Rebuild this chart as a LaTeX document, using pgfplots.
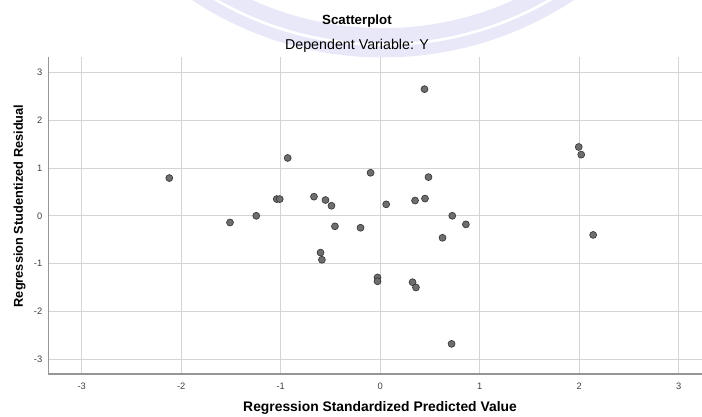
\documentclass[border=0pt]{standalone}
\usepackage{fontspec}
\setmainfont{Liberation Sans}
\usepackage{pgfplots}
\pgfplotsset{compat=1.18}
\definecolor{gridc}{RGB}{212,212,212}
\definecolor{axc}{RGB}{150,150,150}
\definecolor{mfill}{RGB}{110,110,110}
\definecolor{mdraw}{RGB}{55,55,55}
\definecolor{wm}{RGB}{232,232,248}
\pgfplotstableread{
x y
0.445 2.65
-0.93 1.21
-0.097 0.90
0.485 0.81
-1.04 0.35
-1.01 0.35
-0.666 0.40
-0.55 0.33
-0.49 0.21
0.06 0.24
0.35 0.32
0.45 0.36
-1.51 -0.14
-1.246 0.0
-0.455 -0.22
-0.198 -0.25
0.724 0.0
0.861 -0.18
0.626 -0.46
-0.60 -0.77
-0.586 -0.92
-0.027 -1.29
-0.027 -1.37
0.325 -1.39
0.359 -1.50
1.995 1.44
2.02 1.28
2.14 -0.40
0.717 -2.68
-2.12 0.79
}\resid
\begin{document}
\begin{tikzpicture}
\useasboundingbox (-36.225pt,-32.25pt) rectangle (490.3pt,280.5pt);
\begin{scope}
\clip (-36.225pt,-32.25pt) rectangle (490.3pt,280.5pt);
\draw[wm, line width=22pt] (251pt,497pt) circle (248.6pt);
\draw[white, line width=2pt] (251pt,497pt) circle (250pt);
\end{scope}
\begin{axis}[
 at={(0,0)}, anchor=south west, scale only axis,
 width=490.3pt, height=238pt,
 xmin=-3.336, xmax=3.234, ymin=-3.31, ymax=3.33,
 xtick={-3,...,3}, ytick={-3,...,3},
 grid=major, major grid style={gridc, line width=0.75pt},
 axis x line=bottom, axis y line=left,
 axis line style={axc, line width=0.9pt, -},
 major tick length=0pt, tick style={draw=none},
 tick label style={font=\fontsize{7}{8}\selectfont, text=black!75},
 /pgf/number format/assume math mode=true,
 xticklabel style={yshift=-3pt},
 yticklabel style={xshift=-1pt},
 clip=false,
]
\addplot[only marks, mark=*, mark size=2.6pt,
  mark options={fill=mfill, draw=mdraw, line width=0.5pt}] table {\resid};
\end{axis}
\node[font=\bfseries\fontsize{10}{12}\selectfont] at (231.5pt,265pt) {Scatterplot};
\node[font=\fontsize{10.7}{12}\selectfont] at (231.5pt,246.2pt) {Dependent Variable: Y};
\node[font=\bfseries\fontsize{10.4}{12}\selectfont] at (248.8pt,-25.5pt) {Regression Standardized Predicted Value};
\node[font=\bfseries\fontsize{9.6}{11}\selectfont, rotate=90] at (-21.5pt,126pt) {Regression Studentized Residual};
\end{tikzpicture}
\end{document}
